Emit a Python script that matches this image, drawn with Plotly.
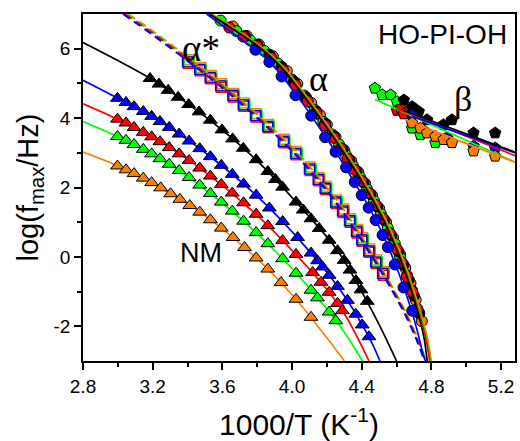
import plotly.graph_objects as go

# ---------------- colours ----------------
BLACK = "#000000"
BLUE = "#0000FF"
RED = "#FF0000"
GREEN = "#00FF00"
ORANGE = "#FF8000"

# ---------------- NM relaxation (triangles) ----------------
nm_black_x = [3.185, 3.236, 3.289, 3.346, 3.407, 3.466, 3.531, 3.598, 3.659, 3.720, 3.794, 3.861, 3.905,
              3.946, 4.023, 4.065, 4.109, 4.156, 4.213, 4.261, 4.299, 4.333, 4.367, 4.396, 4.432]
nm_black_y = [5.14, 4.98, 4.80, 4.60, 4.39, 4.18, 3.94, 3.66, 3.40, 3.13, 2.80, 2.46, 2.23,
              2.01, 1.58, 1.35, 1.10, 0.82, 0.48, 0.18, -0.10, -0.38, -0.68, -0.95, -1.28]

nm_blue_x = [2.998, 3.047, 3.093, 3.146, 3.194, 3.242, 3.295, 3.352, 3.409, 3.470, 3.531, 3.594, 3.657, 3.722,
             3.794, 3.870, 3.946, 4.032, 4.109, 4.146, 4.175, 4.213, 4.261, 4.318, 4.366, 4.403, 4.442]
nm_blue_y = [4.57, 4.45, 4.33, 4.19, 4.05, 3.90, 3.73, 3.54, 3.34, 3.12, 2.89, 2.64, 2.38, 2.10,
             1.78, 1.41, 1.02, 0.56, 0.11, -0.11, -0.29, -0.53, -0.85, -1.25, -1.65, -1.96, -2.30]

nm_red_x = [2.998, 3.047, 3.093, 3.146, 3.194, 3.242, 3.295, 3.352, 3.409, 3.470, 3.531, 3.594, 3.657, 3.722,
            3.794, 3.861, 3.946, 4.023, 4.118, 4.166, 4.213, 4.261, 4.289]
nm_red_y = [3.97, 3.86, 3.73, 3.59, 3.46, 3.32, 3.15, 2.97, 2.78, 2.56, 2.33, 2.09, 1.84, 1.56,
            1.23, 0.90, 0.47, 0.07, -0.45, -0.73, -1.02, -1.34, -1.55]

nm_green_x = [2.998, 3.047, 3.093, 3.146, 3.194, 3.242, 3.295, 3.352, 3.409, 3.470, 3.531, 3.594, 3.657,
              3.722, 3.794, 3.861, 3.946, 4.023, 4.109, 4.146, 4.213, 4.251]
nm_green_y = [3.47, 3.36, 3.24, 3.10, 2.97, 2.83, 2.67, 2.49, 2.29, 2.07, 1.83, 1.58, 1.32,
              1.03, 0.70, 0.38, -0.05, -0.47, -0.96, -1.18, -1.59, -1.84]

nm_orange_x = [2.998, 3.047, 3.093, 3.146, 3.194, 3.246, 3.303, 3.356, 3.413, 3.470, 3.531, 3.594, 3.661,
               3.727, 3.794, 3.861, 3.937, 4.023, 4.109]
nm_orange_y = [2.62, 2.51, 2.40, 2.27, 2.14, 1.99, 1.82, 1.66, 1.48, 1.29, 1.07, 0.83, 0.56,
               0.27, -0.03, -0.35, -0.74, -1.22, -1.74]

# VFT fit curves of the NM data (sampled)
nm_fit_black_x = [2.80, 3.00, 3.19, 3.50, 3.80, 4.10, 4.26, 4.43, 4.52, 4.60]
nm_fit_black_y = [6.18, 5.66, 5.13, 4.05, 2.77, 1.15, 0.19, -1.28, -2.15, -3.0]
nm_fit_blue_x = [2.80, 3.00, 3.25, 3.50, 3.80, 4.10, 4.30, 4.44, 4.505]
nm_fit_blue_y = [5.09, 4.57, 3.88, 3.01, 1.75, 0.16, -1.12, -2.30, -3.0]
nm_fit_red_x = [2.80, 3.00, 3.25, 3.50, 3.80, 4.00, 4.20, 4.30, 4.442]
nm_fit_red_y = [4.41, 3.96, 3.30, 2.45, 1.20, 0.19, -0.94, -1.63, -3.0]
nm_fit_green_x = [2.80, 3.00, 3.25, 3.50, 3.80, 4.00, 4.20, 4.30, 4.404]
nm_fit_green_y = [3.90, 3.46, 2.81, 1.95, 0.67, -0.34, -1.51, -2.17, -3.0]
nm_fit_orange_x = [2.80, 3.00, 3.25, 3.50, 3.80, 4.00, 4.20, 4.30]
nm_fit_orange_y = [3.02, 2.62, 1.98, 1.19, -0.06, -1.09, -2.33, -3.0]

# ---------------- alpha* relaxation (open squares) ----------------
as_blue_x = [3.40, 3.47, 3.53, 3.59, 3.66, 3.72, 3.79, 3.86, 3.95, 4.02, 4.10, 4.15, 4.19, 4.25,
             4.29, 4.33, 4.37, 4.40, 4.44, 4.48, 4.52]
as_blue_y = [5.62, 5.40, 5.17, 4.93, 4.65, 4.38, 4.07, 3.76, 3.33, 2.98, 2.53, 2.23, 1.98, 1.58,
             1.32, 1.04, 0.73, 0.49, 0.17, -0.15, -0.48]
as_red_x = [3.405, 3.475, 3.535, 3.595, 3.665, 3.725, 3.795, 3.865, 3.955, 4.025, 4.105, 4.155, 4.195,
            4.255, 4.295, 4.335, 4.375, 4.405, 4.445, 4.485, 4.525]
as_red_y = [5.58, 5.36, 5.13, 4.89, 4.61, 4.34, 4.03, 3.72, 3.29, 2.94, 2.49, 2.19, 1.94, 1.54,
            1.28, 1.00, 0.69, 0.45, 0.13, -0.19, -0.53]
as_orange_x = [3.405, 3.475, 3.535, 3.595, 3.665, 3.725, 3.795, 3.865, 3.955, 4.025, 4.105, 4.155, 4.195,
               4.255, 4.295, 4.335, 4.375, 4.405, 4.445, 4.485, 4.525]
as_orange_y = [5.68, 5.46, 5.23, 4.99, 4.71, 4.44, 4.13, 3.82, 3.39, 3.04, 2.59, 2.29, 2.04, 1.64,
               1.38, 1.10, 0.79, 0.55, 0.23, -0.09, -0.42]
as_green_x = [3.41, 3.48, 3.54, 3.60, 3.67, 3.73, 3.80, 3.87, 3.96, 4.03, 4.11, 4.16, 4.20,
              4.26, 4.30, 4.34, 4.38, 4.41, 4.45, 4.49, 4.53]
as_green_y = [5.63, 5.41, 5.18, 4.94, 4.66, 4.39, 4.08, 3.77, 3.34, 2.99, 2.54, 2.24, 1.99,
              1.59, 1.33, 1.05, 0.74, 0.50, 0.18, -0.14, -0.47]

as_fit_orange_x = [3.06, 3.20, 3.40, 3.60, 3.80, 4.00, 4.15, 4.30, 4.45, 4.55, 4.65, 4.72, 4.77]
as_fit_orange_y = [7.0, 6.51, 5.76, 4.98, 4.11, 3.16, 2.31, 1.34, 0.18, -0.64, -1.56, -2.34, -3.0]
as_fit_green_x = [3.05, 3.20, 3.40, 3.60, 3.80, 4.00, 4.15, 4.30, 4.45, 4.55, 4.65, 4.72, 4.768]
as_fit_green_y = [7.0, 6.48, 5.73, 4.95, 4.08, 3.13, 2.28, 1.31, 0.15, -0.67, -1.59, -2.37, -3.0]
as_fit_red_x = [3.04, 3.20, 3.40, 3.60, 3.80, 4.00, 4.15, 4.30, 4.45, 4.55, 4.65, 4.72, 4.765]
as_fit_red_y = [7.0, 6.45, 5.70, 4.92, 4.05, 3.10, 2.25, 1.28, 0.12, -0.70, -1.62, -2.40, -3.0]
as_fit_blue_x = [3.03, 3.20, 3.40, 3.60, 3.80, 4.00, 4.15, 4.30, 4.45, 4.55, 4.65, 4.72, 4.76]
as_fit_blue_y = [7.0, 6.40, 5.65, 4.87, 4.00, 3.05, 2.20, 1.23, 0.07, -0.75, -1.67, -2.45, -3.0]

# ---------------- alpha relaxation (circles) ----------------
a_orange_x = [3.66, 3.74, 3.81, 3.89, 3.97, 4.03, 4.11, 4.16, 4.20, 4.25, 4.30, 4.34, 4.38, 4.42,
              4.46, 4.50, 4.54, 4.58, 4.62, 4.65, 4.68, 4.71, 4.745]
a_orange_y = [6.64, 6.37, 6.12, 5.78, 5.36, 4.99, 4.44, 4.09, 3.81, 3.45, 3.07, 2.76, 2.44, 2.11,
              1.77, 1.40, 1.00, 0.55, 0.07, -0.32, -0.76, -1.24, -1.85]
a_green_x = [3.59, 3.68, 3.76, 3.84, 3.92, 4.00, 4.07, 4.13, 4.18, 4.23, 4.27, 4.31, 4.35, 4.39,
             4.43, 4.47, 4.51, 4.55, 4.59, 4.62, 4.66, 4.69, 4.73]
a_green_y = [6.81, 6.51, 6.24, 5.94, 5.57, 5.11, 4.65, 4.24, 3.89, 3.53, 3.24, 2.93, 2.62, 2.30,
             1.96, 1.62, 1.24, 0.83, 0.38, 0.01, -0.53, -0.97, -1.63]
a_black_x = [3.73, 3.80, 3.87, 3.94, 4.01, 4.08, 4.14, 4.19, 4.24, 4.29, 4.33, 4.37, 4.41, 4.45,
             4.49, 4.53, 4.57, 4.61, 4.64, 4.67, 4.70, 4.73]
a_black_y = [6.36, 6.12, 5.83, 5.48, 5.06, 4.60, 4.19, 3.84, 3.48, 3.11, 2.80, 2.48, 2.15, 1.81,
             1.45, 1.07, 0.62, 0.16, -0.23, -0.66, -1.12, -1.61]
a_red_x = [3.64, 3.72, 3.80, 3.88, 3.95, 4.02, 4.09, 4.14, 4.19, 4.24, 4.28, 4.32, 4.36, 4.40,
           4.44, 4.48, 4.52, 4.56, 4.60, 4.63, 4.66, 4.69, 4.72]
a_red_y = [6.61, 6.35, 6.07, 5.74, 5.38, 4.95, 4.49, 4.14, 3.79, 3.43, 3.13, 2.83, 2.51, 2.19,
           1.85, 1.50, 1.12, 0.69, 0.24, -0.15, -0.56, -1.00, -1.50]
a_blue_x = [3.79, 3.87, 3.94, 4.02, 4.11, 4.19, 4.25, 4.31, 4.36, 4.40, 4.44, 4.48, 4.52, 4.55,
            4.59, 4.64, 4.69]
a_blue_y = [5.97, 5.62, 5.20, 4.66, 4.07, 3.45, 3.03, 2.58, 2.16, 1.78, 1.42, 1.06, 0.63, 0.28,
            -0.22, -0.88, -1.55]

a_fit_black_x = [3.525, 3.695, 3.795, 3.875, 3.955, 4.015, 4.095, 4.185, 4.265, 4.325, 4.395, 4.465,
                 4.525, 4.595, 4.645, 4.685, 4.733, 4.760, 4.776]
a_fit_black_y = [7.0, 6.45, 6.10, 5.77, 5.36, 4.98, 4.45, 3.82, 3.24, 2.78, 2.22, 1.62,
                 1.05, 0.27, -0.38, -0.97, -1.80, -2.40, -3.0]
a_fit_red_x = [3.53, 3.70, 3.80, 3.88, 3.96, 4.02, 4.10, 4.19, 4.27, 4.33, 4.40, 4.47,
               4.53, 4.60, 4.65, 4.69, 4.74, 4.77, 4.79]
a_fit_red_y = [7.0, 6.45, 6.10, 5.77, 5.36, 4.98, 4.45, 3.82, 3.24, 2.78, 2.22, 1.62,
               1.05, 0.27, -0.38, -0.97, -1.80, -2.40, -3.0]
a_fit_green_x = [3.535, 3.705, 3.805, 3.885, 3.965, 4.025, 4.105, 4.195, 4.275, 4.335, 4.405, 4.475,
                 4.535, 4.605, 4.655, 4.695, 4.745, 4.775, 4.795]
a_fit_green_y = [7.0, 6.45, 6.10, 5.77, 5.36, 4.98, 4.45, 3.82, 3.24, 2.78, 2.22, 1.62,
                 1.05, 0.27, -0.38, -0.97, -1.80, -2.40, -3.0]
a_fit_orange_x = [3.54, 3.71, 3.81, 3.89, 3.97, 4.03, 4.11, 4.20, 4.28, 4.34, 4.41, 4.48,
                  4.54, 4.61, 4.66, 4.70, 4.75, 4.78, 4.80]
a_fit_orange_y = [7.0, 6.45, 6.10, 5.77, 5.36, 4.98, 4.45, 3.82, 3.24, 2.78, 2.22, 1.62,
                  1.05, 0.27, -0.38, -0.97, -1.80, -2.40, -3.0]
a_fit_blue_x = [3.51, 3.70, 3.80, 3.88, 3.96, 4.02, 4.10, 4.19, 4.27, 4.33, 4.40, 4.47,
                4.53, 4.60, 4.65, 4.69, 4.72, 4.755, 4.766]
a_fit_blue_y = [7.0, 6.30, 5.93, 5.57, 5.10, 4.70, 4.15, 3.48, 2.87, 2.38, 1.80, 1.17,
                0.55, -0.30, -1.00, -1.62, -2.15, -2.85, -3.0]

# ---------------- beta relaxation (pentagons) ----------------
b_green_x = [4.476, 4.518, 4.566, 4.603, 4.689, 4.737, 4.823]
b_green_y = [4.86, 4.67, 4.67, 4.47, 3.71, 3.52, 3.29]
b_red_x = [4.603, 4.625, 4.642]
b_red_y = [4.22, 4.27, 4.12]
b_black_x = [4.642, 4.689, 4.727, 4.775, 4.870, 4.918, 5.042, 5.166]
b_black_y = [4.52, 4.33, 4.19, 3.95, 3.81, 3.95, 3.57, 3.57]
b_blue_x = [4.689, 4.889, 5.042, 5.166]
b_blue_y = [4.09, 3.43, 3.19, 3.14]
b_orange_x = [4.689, 4.737, 4.775, 4.823, 4.870, 4.918, 5.042, 5.166]
b_orange_y = [3.86, 3.71, 3.57, 3.47, 3.38, 3.29, 3.05, 2.90]

b_fit_green_x = [4.476, 5.29]
b_fit_green_y = [4.54, 2.71]
b_fit_red_x = [4.60, 5.29]
b_fit_red_y = [4.27, 2.90]
b_fit_black_x = [4.64, 5.29]
b_fit_black_y = [4.22, 3.00]
b_fit_blue_x = [4.689, 5.29]
b_fit_blue_y = [4.05, 2.98]
b_fit_orange_x = [4.65, 5.29]
b_fit_orange_y = [3.95, 2.71]

# ---------------- axis ticks ----------------
x_ticks = [2.8, 3.2, 3.6, 4.0, 4.4, 4.8, 5.2]
x_ticktext = ["2.8", "3.2", "3.6", "4.0", "4.4", "4.8", "5.2"]
x_minor = [3.0, 3.4, 3.8, 4.2, 4.6, 5.0]
y_ticks = [-2, 0, 2, 4, 6]
y_ticktext = ["-2", "0", "2", "4", "6"]
y_minor = [-1, 1, 3, 5]

SANS = "Liberation Sans, Arial, sans-serif"
SERIF = "Liberation Serif, Times New Roman, serif"

fig = go.Figure()


def markers(x, y, color, symbol, size=12, open_=False):
    if open_:
        m = dict(symbol=symbol, size=size, color=color, line=dict(color=color, width=1.4))
    else:
        m = dict(symbol=symbol, size=size, color=color, line=dict(color=BLACK, width=1))
    fig.add_trace(go.Scatter(x=x, y=y, mode="markers", marker=m, showlegend=False,
                             hoverinfo="skip"))


def curve(x, y, color, dash="solid", width=1.7, smooth=True):
    fig.add_trace(go.Scatter(x=x, y=y, mode="lines", showlegend=False, hoverinfo="skip",
                             line=dict(color=color, width=width, dash=dash,
                                       shape="spline" if smooth else "linear",
                                       smoothing=1.0)))


# NM: fits under the symbols
for fx, fy, c in [(nm_fit_black_x, nm_fit_black_y, BLACK), (nm_fit_blue_x, nm_fit_blue_y, BLUE),
                  (nm_fit_red_x, nm_fit_red_y, RED), (nm_fit_green_x, nm_fit_green_y, GREEN),
                  (nm_fit_orange_x, nm_fit_orange_y, ORANGE)]:
    curve(fx, fy, c)
for dx, dy, c in [(nm_black_x, nm_black_y, BLACK), (nm_blue_x, nm_blue_y, BLUE),
                  (nm_red_x, nm_red_y, RED), (nm_green_x, nm_green_y, GREEN),
                  (nm_orange_x, nm_orange_y, ORANGE)]:
    markers(dx, dy, c, "triangle-up", size=12)

# alpha*: open squares with dashed fits
for dx, dy, c in [(as_orange_x, as_orange_y, ORANGE), (as_green_x, as_green_y, GREEN),
                  (as_red_x, as_red_y, RED), (as_blue_x, as_blue_y, BLUE)]:
    markers(dx, dy, c, "square-open", size=10, open_=True)
for fx, fy, c in [(as_fit_orange_x, as_fit_orange_y, ORANGE), (as_fit_green_x, as_fit_green_y, GREEN),
                  (as_fit_red_x, as_fit_red_y, RED), (as_fit_blue_x, as_fit_blue_y, BLUE)]:
    curve(fx, fy, c, dash="8px,5px", width=2)

# alpha: filled circles, fits drawn on top
for dx, dy, c in [(a_orange_x, a_orange_y, ORANGE), (a_green_x, a_green_y, GREEN),
                  (a_black_x, a_black_y, BLACK), (a_red_x, a_red_y, RED),
                  (a_blue_x, a_blue_y, BLUE)]:
    markers(dx, dy, c, "circle", size=11)
for fx, fy, c in [(a_fit_orange_x, a_fit_orange_y, ORANGE), (a_fit_green_x, a_fit_green_y, GREEN),
                  (a_fit_red_x, a_fit_red_y, RED), (a_fit_blue_x, a_fit_blue_y, BLUE),
                  (a_fit_black_x, a_fit_black_y, BLACK)]:
    curve(fx, fy, c)

# beta: pentagons with Arrhenius lines
for dx, dy, c in [(b_green_x, b_green_y, GREEN), (b_red_x, b_red_y, RED),
                  (b_black_x, b_black_y, BLACK), (b_blue_x, b_blue_y, BLUE),
                  (b_orange_x, b_orange_y, ORANGE)]:
    markers(dx, dy, c, "pentagon", size=12)
for fx, fy, c in [(b_fit_green_x, b_fit_green_y, GREEN), (b_fit_orange_x, b_fit_orange_y, ORANGE),
                  (b_fit_red_x, b_fit_red_y, RED), (b_fit_blue_x, b_fit_blue_y, BLUE),
                  (b_fit_black_x, b_fit_black_y, BLACK)]:
    curve(fx, fy, c, smooth=False)

# labels
labels = [
    ("α*", 3.48, 6.02, SERIF, 37),
    ("α", 4.15, 5.12, SERIF, 36),
    ("β", 4.98, 4.55, SERIF, 36),
    ("NM", 3.48, 0.12, SANS, 27),
    ("HO-PI-OH", 4.862, 6.40, SANS, 28),
]
for txt, lx, ly, fam, fs in labels:
    fig.add_annotation(x=lx, y=ly, text=txt, showarrow=False, xanchor="center", yanchor="middle",
                       font=dict(family=fam, size=fs, color=BLACK))

axis_common = dict(showline=True, linecolor=BLACK, linewidth=1.8, mirror=True, showgrid=False,
                   zeroline=False, ticks="outside", ticklen=7, tickwidth=1.8, tickcolor=BLACK,
                   tickfont=dict(family=SANS, size=19, color=BLACK))

fig.update_xaxes(range=[2.8, 5.28], tickvals=x_ticks, ticktext=x_ticktext,
                 minor=dict(tickvals=x_minor, ticklen=4, tickwidth=1.8,
                            tickcolor=BLACK, ticks="outside"),
                 title=dict(text="1000/T (K<sup>-1</sup>)", standoff=20,
                            font=dict(family=SANS, size=30, color=BLACK)),
                 **axis_common)
fig.update_yaxes(range=[-3, 7], tickvals=y_ticks, ticktext=y_ticktext,
                 minor=dict(tickvals=y_minor, ticklen=4, tickwidth=1.8,
                            tickcolor=BLACK, ticks="outside"),
                 title=dict(text="log(f<sub>max</sub>/Hz)", standoff=6,
                            font=dict(family=SANS, size=29, color=BLACK)),
                 **axis_common)

fig.update_layout(width=520, height=441, margin=dict(l=83, r=3, t=14, b=78),
                  paper_bgcolor="white", plot_bgcolor="white")

fig.write_html("out.html")
